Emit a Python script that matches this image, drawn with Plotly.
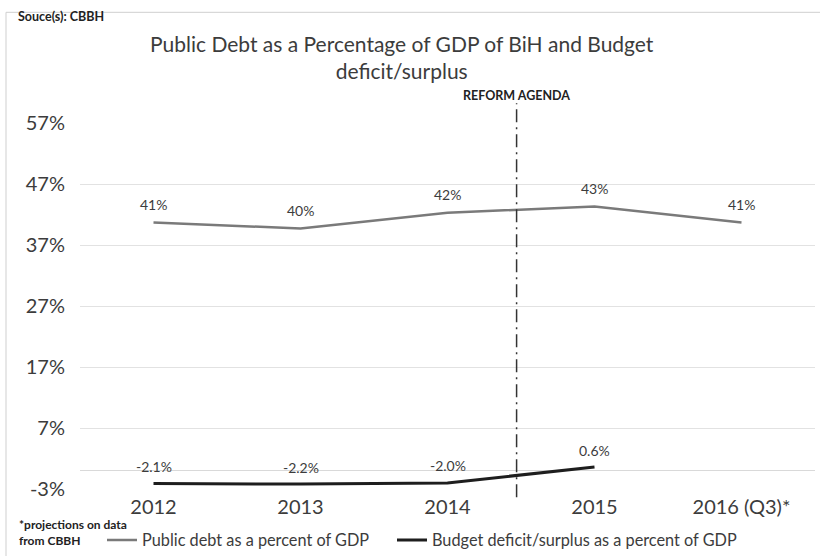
import plotly.graph_objects as go

# --- data ---
years = ["2012", "2013", "2014", "2015", "2016 (Q3)*"]
public_debt = [40.7, 39.7, 42.3, 43.3, 40.7]          # % of GDP
budget_balance = [-2.1, -2.2, -2.0, 0.6, None]        # % of GDP
y_ticks = [-3, 7, 17, 27, 37, 47, 57]
reform_position = 2.47                                 # between 2014 and 2015

# --- canvas geometry (pixels) ---
W, H = 820, 556
PL, PR = 80, 815          # plot left/right
PT, PB = 122.7, 488.7     # plot top/bottom

def px_x(x):
    return (x - PL) / (PR - PL)

def px_y(y):
    return (PB - y) / (PB - PT)

FONT = "Lato, 'Open Sans', sans-serif"
TXT = "#3c3c3c"

fig = go.Figure()

fig.add_trace(go.Scatter(
    x=years, y=public_debt, mode="lines",
    name="Public debt as a percent of GDP",
    line=dict(color="#7a7a7a", width=2.5),
    hoverinfo="skip", legend="legend",
))
fig.add_trace(go.Scatter(
    x=years, y=budget_balance, mode="lines",
    name="Budget deficit/surplus as a percent of GDP",
    line=dict(color="#1e1e1e", width=3),
    hoverinfo="skip", legend="legend2",
))

annotations = []
# data labels (positioned by category index so year strings are not read as numbers)
for i, v in enumerate(public_debt):
    annotations.append(dict(x=i, y=v, text=f"{v:.0f}%", showarrow=False,
                            yshift=18, font=dict(size=14, color=TXT, family=FONT)))
for i, v in enumerate(budget_balance):
    if v is None:
        continue
    annotations.append(dict(x=i, y=v, text=f"{v:.1f}%", showarrow=False,
                            yshift=17, font=dict(size=14, color=TXT, family=FONT)))

# title
annotations.append(dict(
    xref="paper", yref="paper", x=px_x(402), y=px_y(57), xanchor="center", yanchor="middle",
    text="Public Debt as a Percentage of GDP of BiH and Budget<br>deficit/surplus",
    showarrow=False, font=dict(size=21, color=TXT, family=FONT),
))
# source note
annotations.append(dict(
    xref="paper", yref="paper", x=px_x(16), y=px_y(16), xanchor="left", yanchor="middle",
    text="<b>Souce(s): CBBH</b>", showarrow=False,
    font=dict(size=12.5, color="#222222", family=FONT),
))
# reform agenda label
annotations.append(dict(
    xref="x", yref="paper", x=reform_position, y=px_y(95), xanchor="center", yanchor="middle",
    text="<b>REFORM AGENDA</b>", showarrow=False,
    font=dict(size=12.5, color="#222222", family=FONT),
))
# projections footnote
annotations.append(dict(
    xref="paper", yref="paper", x=px_x(17), y=px_y(532), xanchor="left", yanchor="middle",
    text="<b>*projections on data<br>from CBBH</b>", showarrow=False, align="left",
    font=dict(size=12, color="#222222", family=FONT),
))

shapes = [
    # reform agenda marker
    dict(type="line", xref="x", yref="paper", x0=reform_position, x1=reform_position,
         y0=px_y(497), y1=px_y(103),
         line=dict(color="#333333", width=1.5, dash="13px,5px,2px,5px")),
    # chart frame
    dict(type="rect", xref="paper", yref="paper", x0=px_x(6), x1=px_x(830),
         y0=px_y(570), y1=px_y(12), line=dict(color="#cfcfcf", width=1), layer="below"),
]

legend_style = dict(orientation="h", yanchor="middle", xanchor="left",
                    font=dict(size=16.3, color=TXT, family=FONT), itemwidth=30,
                    bgcolor="rgba(0,0,0,0)")

fig.update_layout(
    width=W, height=H,
    margin=dict(l=PL, r=W - PR, t=PT, b=H - PB, autoexpand=False),
    paper_bgcolor="white", plot_bgcolor="white",
    font=dict(family=FONT, color=TXT),
    showlegend=True,
    legend=dict(x=px_x(102), y=px_y(540), **legend_style),
    legend2=dict(x=px_x(392), y=px_y(540), **legend_style),
    annotations=annotations,
    shapes=shapes,
    xaxis=dict(type="category", range=[-0.5, 4.5], showgrid=False, zeroline=False,
               showline=False, ticks="", ticklabelstandoff=4, automargin=False,
               tickfont=dict(size=20, color=TXT, family=FONT)),
    yaxis=dict(range=[-3, 57], tickvals=y_ticks, ticktext=[f"{t}%" for t in y_ticks],
               showgrid=True, gridcolor="#e2e2e2", gridwidth=1,
               zeroline=True, zerolinecolor="#d9d9d9", zerolinewidth=1,
               showline=False, ticks="", ticklabelstandoff=14, automargin=False,
               tickfont=dict(size=20, color=TXT, family=FONT)),
)

fig.write_html("out.html")
